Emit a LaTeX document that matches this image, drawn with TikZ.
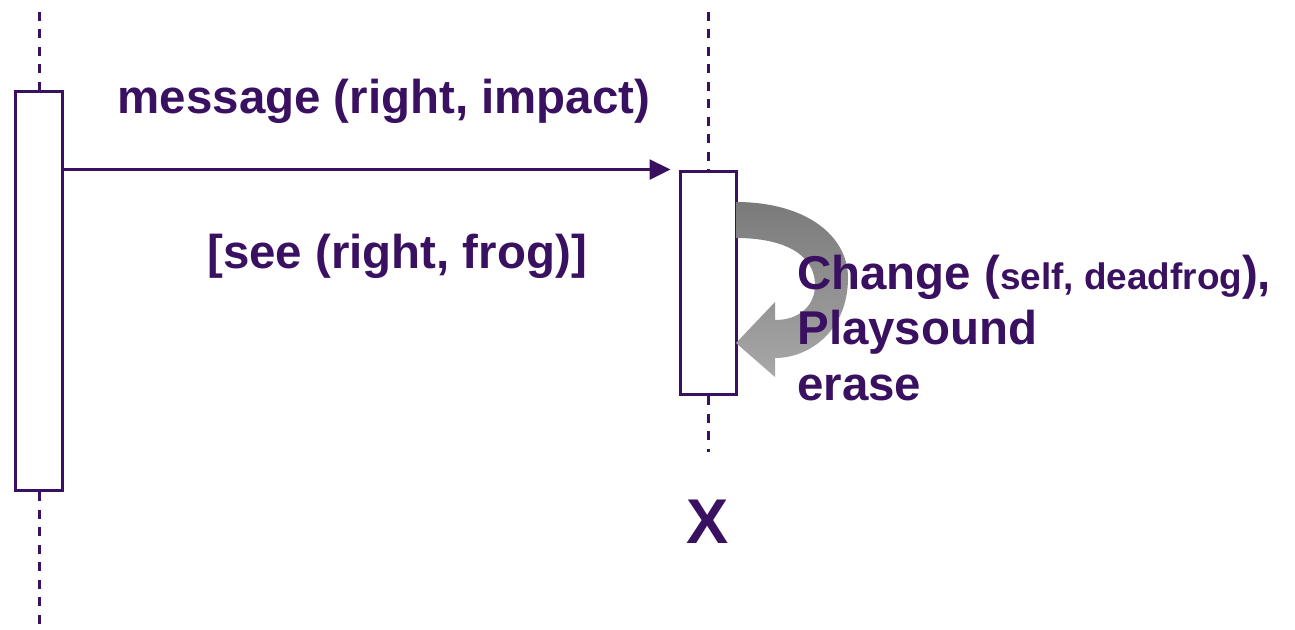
\documentclass[tikz,border=0pt]{standalone}
\usepackage{fontspec}
\setmainfont{Liberation Sans}
\usetikzlibrary{arrows.meta}

\definecolor{umlpurple}{RGB}{58,16,96}
\definecolor{selfdark}{RGB}{122,122,122}
\definecolor{selflight}{RGB}{168,168,168}

\tikzset{
  lifebox/.style={draw=umlpurple, line width=0.06cm, fill=white, inner sep=0pt},
  lifeline/.style={draw=umlpurple, line width=0.06cm, dash pattern=on 0.18cm off 0.17cm},
  msg/.style={draw=umlpurple, line width=0.05cm, -{Triangle[length=0.42cm,width=0.4cm]}},
  umltext/.style={text=umlpurple, inner sep=0pt, font=\bfseries\fontsize{27}{31.5}\selectfont}
}

\begin{document}
\begin{tikzpicture}[x=0.02cm,y=-0.02cm]
\useasboundingbox (0,0) rectangle (1295,629);

% FROG LIFELINE
\node[lifebox, minimum width=0.96cm, minimum height=8cm] (frogbox) at (39,291) {};
\coordinate (frogtop) at (39,12);
\coordinate (frogend) at (39,629);
\draw[lifeline] (frogtop) -- (frogbox.north);
\draw[lifeline] (frogbox.south) -- (frogend);

% CAR LIFELINE
\node[lifebox, minimum width=1.12cm, minimum height=4.48cm] (carbox) at (708,283) {};
\coordinate (cartop) at (708,12);
\coordinate (carend) at (708,452);
\draw[lifeline] (cartop) -- (carbox.north);
\draw[lifeline] (carbox.south) -- (carend);

% MESSAGE
\draw[msg, shorten >=0.16cm] (frogbox.east |- carbox.north) -- (carbox.north west);
\node[umltext, anchor=base] (msglabel) at (384,113) {message (right, impact)};
\node[umltext, anchor=base west] (guard) at (207,268) {[see (right, frog)]};

% SELF CALL
\shade[top color=selfdark, bottom color=selflight]
  (736,202) .. controls (805,202) and (848,235) .. (848,278)
  .. controls (848,330) and (810,358) .. (775,358)
  -- (775,377) -- (736,343) -- (775,302) -- (775,320)
  .. controls (800,320) and (815,305) .. (815,285)
  .. controls (815,255) and (785,238) .. (736,238) -- cycle;
\node[umltext, anchor=base west, align=left] (action) at (797,400)
  {Change ({\fontsize{21}{21}\selectfont self, deadfrog}),\\Playsound\\erase};

% DESTROY
\node[umltext, anchor=base, font=\bfseries\fontsize{36}{36}\selectfont] (destroy) at (708,543) {X};

\end{tikzpicture}
\end{document}
